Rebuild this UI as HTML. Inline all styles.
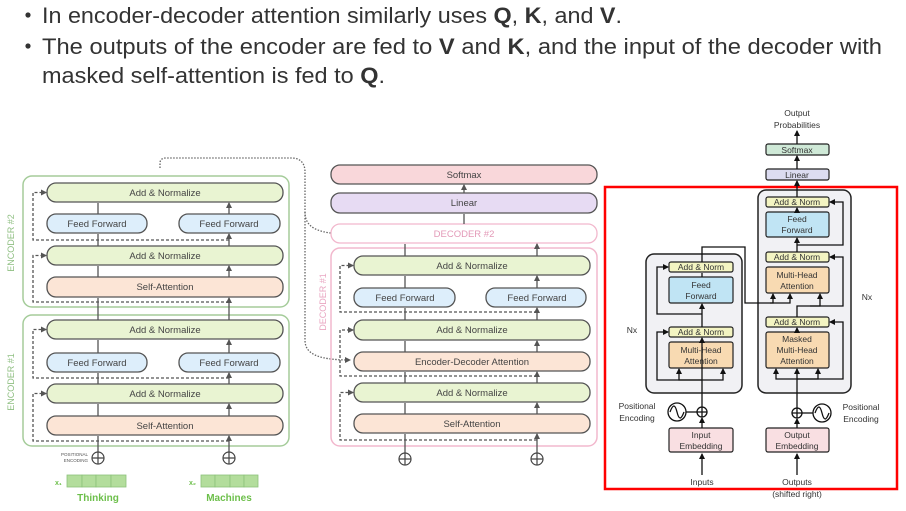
<!DOCTYPE html>
<html><head><meta charset="utf-8"><style>
html,body{margin:0;padding:0;background:#fff;width:906px;height:511px;overflow:hidden}
svg{display:block;font-family:"Liberation Sans",sans-serif}
</style></head><body>
<svg width="906" height="511" viewBox="0 0 906 511" xmlns="http://www.w3.org/2000/svg">
<defs>
<marker id="a" markerWidth="6" markerHeight="6" refX="5" refY="3" orient="auto" markerUnits="userSpaceOnUse"><path d="M0,0 L6,3 L0,6 z" fill="#555"/></marker>
<marker id="b" markerWidth="6" markerHeight="6" refX="5" refY="3" orient="auto" markerUnits="userSpaceOnUse"><path d="M0,0 L6,3 L0,6 z" fill="#111"/></marker>
</defs>
<!-- top text -->
<g font-size="22" fill="#333">
<circle cx="28" cy="15" r="2.6" fill="#333"/>
<circle cx="28" cy="46" r="2.6" fill="#333"/>
<text x="42" y="23" textLength="580" lengthAdjust="spacingAndGlyphs">In encoder-decoder attention similarly uses <tspan font-weight="bold">Q</tspan>, <tspan font-weight="bold">K</tspan>, and <tspan font-weight="bold">V</tspan>.</text>
<text x="42" y="54" textLength="840" lengthAdjust="spacingAndGlyphs">The outputs of the encoder are fed to <tspan font-weight="bold">V</tspan> and <tspan font-weight="bold">K</tspan>, and the input of the decoder with</text>
<text x="42" y="83" textLength="343" lengthAdjust="spacingAndGlyphs">masked self-attention is fed to <tspan font-weight="bold">Q</tspan>.</text>
</g>

<!-- ENCODER -->
<g fill="none" stroke="#a5cc9a" stroke-width="1.5">
<rect x="23" y="176" width="266" height="131" rx="9"/>
<rect x="23" y="315" width="266" height="131" rx="9"/>
</g>
<g font-size="9" fill="#8fbf82">
<text transform="translate(14,243) rotate(-90)" text-anchor="middle">ENCODER #2</text>
<text transform="translate(14,382) rotate(-90)" text-anchor="middle">ENCODER #1</text>
</g>
<g stroke="#555" stroke-width="1.3">
<rect x="47" y="183" width="236" height="19" rx="9" fill="#e9f4d2"/>
<rect x="47" y="214" width="100" height="19" rx="9" fill="#ddeefb"/>
<rect x="179" y="214" width="101" height="19" rx="9" fill="#ddeefb"/>
<rect x="47" y="246" width="236" height="19" rx="9" fill="#e9f4d2"/>
<rect x="47" y="277" width="236" height="20" rx="9" fill="#fce5d6"/>
<rect x="47" y="320" width="236" height="19" rx="9" fill="#e9f4d2"/>
<rect x="47" y="353" width="100" height="19" rx="9" fill="#ddeefb"/>
<rect x="179" y="353" width="101" height="19" rx="9" fill="#ddeefb"/>
<rect x="47" y="384" width="236" height="19" rx="9" fill="#e9f4d2"/>
<rect x="47" y="416" width="236" height="19" rx="9" fill="#fce5d6"/>
</g>
<g font-size="9.5" fill="#444" text-anchor="middle">
<text x="165" y="196">Add &amp; Normalize</text>
<text x="97" y="227">Feed Forward</text>
<text x="229" y="227">Feed Forward</text>
<text x="165" y="259">Add &amp; Normalize</text>
<text x="165" y="290">Self-Attention</text>
<text x="165" y="333">Add &amp; Normalize</text>
<text x="97" y="366">Feed Forward</text>
<text x="229" y="366">Feed Forward</text>
<text x="165" y="397">Add &amp; Normalize</text>
<text x="165" y="429">Self-Attention</text>
</g>
<g stroke="#555" stroke-width="1.3" marker-end="url(#a)">
<path d="M98 452V436M229 452V436"/>
<path d="M98 416V404M229 416V404"/>
<path d="M98 384V373M229 384V373"/>
<path d="M98 353V340M229 353V340"/>
<path d="M98 320V298M229 320V298"/>
<path d="M98 277V266M229 277V266"/>
<path d="M98 246V234M229 246V234"/>
<path d="M98 214V203M229 214V203"/>
</g>
<g fill="none" stroke="#555" stroke-width="1.3" stroke-dasharray="3,2" marker-end="url(#a)">
<path d="M229 240H33V192.5H46"/>
<path d="M229 302H33V255.5H46"/>
<path d="M229 378H33V329.5H46"/>
<path d="M229 441H33V393.5H46"/>
</g>
<g stroke="#444" stroke-width="1.2" fill="#fff">
<circle cx="98" cy="458" r="6"/><circle cx="229" cy="458" r="6"/>
</g>
<path d="M92 458H104M98 452V464M223 458H235M229 452V464" stroke="#444" stroke-width="1.2"/>
<g font-size="4.5" fill="#555" text-anchor="end"><text x="88" y="456">POSITIONAL</text><text x="88" y="462">ENCODING</text></g>
<g fill="#b3dd9c" stroke="#8cc27a" stroke-width="0.8">
<rect x="67" y="475" width="15" height="12"/><rect x="82" y="475" width="14" height="12"/><rect x="96" y="475" width="15" height="12"/><rect x="111" y="475" width="15" height="12"/>
<rect x="201" y="475" width="14" height="12"/><rect x="215" y="475" width="15" height="12"/><rect x="230" y="475" width="14" height="12"/><rect x="244" y="475" width="14" height="12"/>
</g>
<g fill="#6cbf4a" font-weight="bold" font-size="10">
<text x="55" y="485" font-size="7">x₁</text><text x="189" y="485" font-size="7">x₂</text>
<text x="98" y="501" text-anchor="middle">Thinking</text>
<text x="229" y="501" text-anchor="middle">Machines</text>
</g>
<!-- dotted -->
<g fill="none" stroke="#666" stroke-width="1.3" stroke-dasharray="1.5,1.5">
<path d="M160 168V163C160 160 162 158 166 158H292C300 158 305 163 305 172V212C305 226 315 234 348 234" marker-end="url(#a)"/>
<path d="M305 212V340C305 352 314 360 350 360" marker-end="url(#a)"/>
</g>

<!-- DECODER -->
<g stroke="#555" stroke-width="1.3">
<rect x="331" y="165" width="266" height="19" rx="9" fill="#f9d7da"/>
<rect x="331" y="193" width="266" height="20" rx="9" fill="#e7dbf3"/>
</g>
<rect x="331" y="224" width="266" height="19" rx="9" fill="#fff" stroke="#f2b8cd" stroke-width="1.3"/>
<rect x="331" y="248" width="266" height="198" rx="9" fill="none" stroke="#f2b8cd" stroke-width="1.5"/>
<g stroke="#555" stroke-width="1.3">
<rect x="354" y="256" width="236" height="19" rx="9" fill="#e9f4d2"/>
<rect x="354" y="288" width="101" height="19" rx="9" fill="#ddeefb"/>
<rect x="486" y="288" width="100" height="19" rx="9" fill="#ddeefb"/>
<rect x="354" y="320" width="236" height="20" rx="9" fill="#e9f4d2"/>
<rect x="354" y="352" width="236" height="19" rx="9" fill="#fce5d6"/>
<rect x="354" y="383" width="236" height="19" rx="9" fill="#e9f4d2"/>
<rect x="354" y="414" width="236" height="19" rx="9" fill="#fce5d6"/>
</g>
<g font-size="9.5" fill="#444" text-anchor="middle">
<text x="464" y="178">Softmax</text>
<text x="464" y="206">Linear</text>
<text x="464" y="237" fill="#e39ab8">DECODER #2</text>
<text x="472" y="269">Add &amp; Normalize</text>
<text x="405" y="301">Feed Forward</text>
<text x="537" y="301">Feed Forward</text>
<text x="472" y="333">Add &amp; Normalize</text>
<text x="472" y="365">Encoder-Decoder Attention</text>
<text x="472" y="396">Add &amp; Normalize</text>
<text x="472" y="427">Self-Attention</text>
</g>
<text transform="translate(326,302) rotate(-90)" text-anchor="middle" font-size="9" fill="#e9a6c2">DECODER #1</text>
<g stroke="#555" stroke-width="1.3" marker-end="url(#a)">
<path d="M405 453V434M537 453V434"/>
<path d="M405 414V403M537 414V403"/>
<path d="M405 383V372M537 383V372"/>
<path d="M405 352V341M537 352V341"/>
<path d="M405 320V308M537 320V308"/>
<path d="M405 288V276M537 288V276"/>
<path d="M405 256V244M537 256V244"/>
<path d="M464 224V214M464 193V185"/>
</g>
<g fill="none" stroke="#555" stroke-width="1.3" stroke-dasharray="3,2" marker-end="url(#a)">
<path d="M537 312H340V265.5H353"/>
<path d="M537 376H340V330H353"/>
<path d="M537 440H340V392.5H353"/>
</g>
<g stroke="#444" stroke-width="1.2" fill="#fff">
<circle cx="405" cy="459" r="6"/><circle cx="537" cy="459" r="6"/>
</g>
<path d="M399 459H411M405 453V465M531 459H543M537 453V465" stroke="#444" stroke-width="1.2"/>

<!-- RIGHT TRANSFORMER -->
<rect x="605" y="187" width="292" height="302" fill="none" stroke="#f00" stroke-width="2.5"/>
<g stroke="#222" stroke-width="1.5" fill="#f1f1f4">
<rect x="758" y="190" width="93" height="203" rx="8"/>
<rect x="646" y="254" width="96" height="139" rx="8"/>
</g>
<g stroke="#222" stroke-width="1.2">
<rect x="766" y="144" width="63" height="11" rx="2" fill="#cfe9d7"/>
<rect x="766" y="169" width="63" height="11" rx="2" fill="#dcdcf1"/>
<rect x="766" y="197" width="63" height="10" rx="2" fill="#f3f4c2"/>
<rect x="766" y="212" width="63" height="25" rx="2" fill="#c0e4f4"/>
<rect x="766" y="252" width="63" height="10" rx="2" fill="#f3f4c2"/>
<rect x="766" y="267" width="63" height="26" rx="2" fill="#f8dab2"/>
<rect x="766" y="317" width="63" height="10" rx="2" fill="#f3f4c2"/>
<rect x="766" y="332" width="63" height="36" rx="2" fill="#f8dab2"/>
<rect x="669" y="262" width="64" height="10" rx="2" fill="#f3f4c2"/>
<rect x="669" y="277" width="64" height="26" rx="2" fill="#c0e4f4"/>
<rect x="669" y="327" width="64" height="10" rx="2" fill="#f3f4c2"/>
<rect x="669" y="342" width="64" height="26" rx="2" fill="#f8dab2"/>
<rect x="669" y="428" width="64" height="24" rx="2" fill="#f9dfe2"/>
<rect x="766" y="428" width="63" height="24" rx="2" fill="#f9dfe2"/>
</g>
<g font-size="8.5" fill="#333" text-anchor="middle">
<text x="797" y="116">Output</text><text x="797" y="128">Probabilities</text>
<text x="797" y="153">Softmax</text>
<text x="797" y="178">Linear</text>
<text x="797" y="205">Add &amp; Norm</text>
<text x="797" y="222">Feed</text><text x="797" y="233">Forward</text>
<text x="797" y="260">Add &amp; Norm</text>
<text x="797" y="278">Multi-Head</text><text x="797" y="289">Attention</text>
<text x="797" y="325">Add &amp; Norm</text>
<text x="797" y="342">Masked</text><text x="797" y="353">Multi-Head</text><text x="797" y="364">Attention</text>
<text x="701" y="270">Add &amp; Norm</text>
<text x="701" y="288">Feed</text><text x="701" y="299">Forward</text>
<text x="701" y="335">Add &amp; Norm</text>
<text x="701" y="353">Multi-Head</text><text x="701" y="364">Attention</text>
<text x="701" y="438">Input</text><text x="701" y="449">Embedding</text>
<text x="797" y="438">Output</text><text x="797" y="449">Embedding</text>
<text x="702" y="485">Inputs</text>
<text x="797" y="485">Outputs</text><text x="797" y="497">(shifted right)</text>
<text x="637" y="409">Positional</text><text x="637" y="421">Encoding</text>
<text x="861" y="410">Positional</text><text x="861" y="422">Encoding</text>
<text x="632" y="333">Nx</text><text x="867" y="300">Nx</text>
</g>
<g fill="none" stroke="#111" stroke-width="1.3">
<!-- encoder main line -->
<path d="M702 475V454" marker-end="url(#b)"/>
<path d="M702 428V418" marker-end="url(#b)"/>
<path d="M702 407V338" marker-end="url(#b)"/>
<path d="M702 327V304" marker-end="url(#b)"/>
<path d="M702 277V273" />
<path d="M702 380H679V369" marker-end="url(#b)"/>
<path d="M702 380H723V369" marker-end="url(#b)"/>
<path d="M702 380H657V332H668" marker-end="url(#b)"/>
<path d="M702 314H657V267H668" marker-end="url(#b)"/>
<!-- encoder output -->
<path d="M702 262V247H745V303H773V294" marker-end="url(#b)"/>
<path d="M770 303H790V294" marker-end="url(#b)"/>
<!-- decoder main -->
<path d="M797 475V454" marker-end="url(#b)"/>
<path d="M797 428V419" marker-end="url(#b)"/>
<path d="M797 408V369" marker-end="url(#b)"/>
<path d="M797 332V328" marker-end="url(#b)"/>
<path d="M797 379H776V369" marker-end="url(#b)"/>
<path d="M797 379H818V369" marker-end="url(#b)"/>
<path d="M797 379H843V322H830" marker-end="url(#b)"/>
<path d="M797 317V306H820V294" marker-end="url(#b)"/>
<path d="M810 306H843V257H830" marker-end="url(#b)"/>
<path d="M797 252V238" marker-end="url(#b)"/>
<path d="M797 245H843V202H830" marker-end="url(#b)"/>
<path d="M797 212V208" marker-end="url(#b)"/>
<path d="M797 197V181" marker-end="url(#b)"/>
<path d="M797 169V156" marker-end="url(#b)"/>
<path d="M797 144V131" marker-end="url(#b)"/>
<!-- positional -->
<circle cx="702" cy="412" r="5" fill="#fff"/><path d="M697 412H707M702 407V417"/>
<circle cx="797" cy="413" r="5" fill="#fff"/><path d="M792 413H802M797 408V418"/>
<circle cx="677" cy="412" r="9" fill="#fff"/><path d="M670 412C673 404 675 404 677 412C679 420 681 420 684 412"/>
<path d="M686 412H697"/>
<circle cx="822" cy="413" r="9" fill="#fff"/><path d="M815 413C818 405 820 405 822 413C824 421 826 421 829 413"/>
<path d="M802 413H813"/>
</g>
</svg>
</body></html>
